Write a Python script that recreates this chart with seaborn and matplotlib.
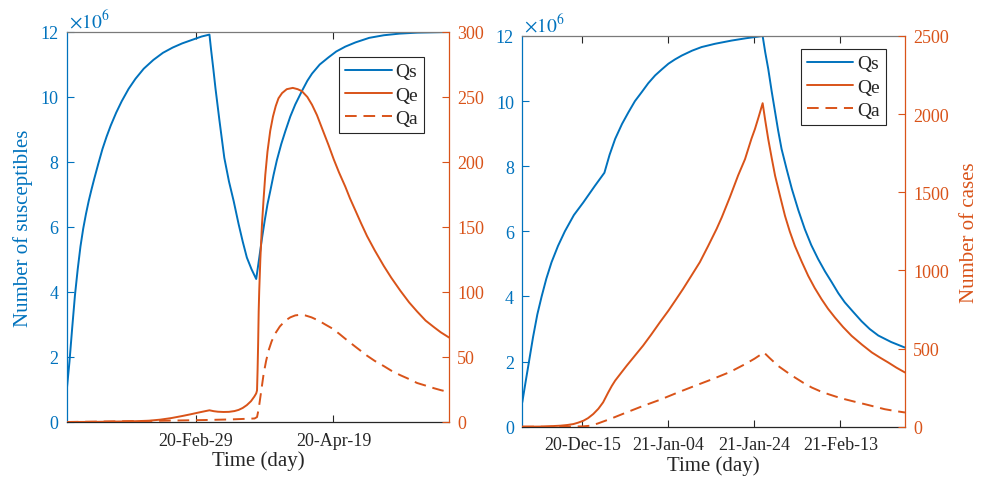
import numpy as np
import pandas as pd
import matplotlib
matplotlib.use("Agg")
import matplotlib.pyplot as plt
import matplotlib.dates as mdates
import seaborn as sns

# ---------------- data ----------------
# Left panel: days since 2020-01-13
left_start = "2020-01-13"
left_end = "2020-05-31"
qs_left_days = [0, 1, 2, 3, 4, 5, 6, 7, 8, 9, 10, 11.5, 13, 14.5, 16, 18, 20, 22.5, 25,
                28, 31.5, 35, 38.5, 42, 46, 49, 51.9,
                52.5, 53.3, 54.1, 55.5, 57.3, 59, 60.7, 62.5, 64, 65.5, 67.2, 68.9,
                70, 71, 72, 73, 74, 75.2, 76.4, 78, 79.5, 81.3, 83.1, 85.5, 87.5, 89.2,
                92, 95.2, 98, 101.3, 105, 110, 115.3, 121, 127.4, 133, 139]
qs_left_vals = [0.97, 1.85, 2.9, 3.9, 4.7, 5.4, 5.95, 6.4, 6.8, 7.15, 7.48, 7.95, 8.4, 8.78,
                9.12, 9.52, 9.87, 10.25, 10.56, 10.87, 11.14, 11.36, 11.52, 11.65, 11.77, 11.86, 11.92,
                11.45, 10.87, 10.26, 9.3, 8.13, 7.4, 6.8, 6.09, 5.55, 5.06, 4.7, 4.40,
                5.05, 5.65, 6.2, 6.7, 7.1, 7.6, 8.05, 8.55, 8.95, 9.4, 9.77, 10.18, 10.5, 10.72,
                11.0, 11.22, 11.4, 11.55, 11.68, 11.82, 11.9, 11.95, 11.98, 11.99, 12.0]

qe_left_days = [0, 10, 20, 25, 30, 34, 38, 42, 45, 48, 50.5, 51.9, 53.5, 55, 57, 59, 61,
                62.5, 64, 65.5, 67, 68.2, 68.9, 69.2, 69.4, 69.6, 69.8, 70.0, 70.4, 71.0,
                71.6, 72.2, 73, 74, 75, 76, 77, 78.3, 80, 82.2, 84, 85.5, 87.5, 89.2, 91,
                93, 95.2, 97.1, 99, 101.3, 103, 104.9, 107, 109.2, 112, 115.3, 118, 121.3,
                124.5, 127.4, 130.5, 133.5, 136, 139]
qe_left_vals = [0, 0.1, 0.4, 0.6, 1.0, 1.8, 3.0, 4.6, 5.9, 7.3, 8.4, 9.0, 8.3, 7.9, 7.7,
                7.8, 8.4, 9.3, 10.8, 13, 16, 19.5, 22, 24.3, 40, 60, 85, 101, 125, 152,
                172, 190, 208, 224, 235, 243, 249, 253, 256, 257, 256, 254.5, 250, 244, 236,
                225, 213, 202, 192, 181, 172, 163, 153, 143, 132, 120, 111, 101,
                92, 85, 78, 73, 69, 65]

qa_left_days = [0, 30, 50, 60, 68.3, 69.2, 69.8, 70.4, 71.0, 71.6, 72.5, 73.4, 74.5, 75.8,
                77.5, 79.5, 81.3, 83.1, 85, 86.7, 89, 91.6, 94, 96.5, 99, 101.3, 104.9,
                109.2, 112, 115.3, 118, 121.3, 124.5, 127.4, 130.5, 133.5, 136, 139]
qa_left_vals = [0, 0.8, 1.5, 2.0, 2.7, 3.8, 10, 19, 28, 37, 47, 55, 62, 68,
                73.5, 78, 80.5, 82, 82.5, 82, 80.5, 78, 75, 72, 68, 64, 58,
                51, 47, 43, 39.5, 36, 33, 30, 28, 26, 24.5, 23]

# Right panel: days since 2020-12-01
right_start = "2020-12-01"
right_end = "2021-02-28"
qs_right_days = [0, 0.8, 1.56, 2.5, 3.5, 4.5, 5.6, 6.8, 8.3, 9.9, 12, 14.2, 16.9, 19.1,
                 20.3, 21.6, 23.2, 24.7, 26.2, 27.8, 29.3, 30.9, 32.5, 34.0, 35.5, 37.1,
                 39.5, 41.7, 44.8, 48.7, 52.0, 55.9,
                 56.5, 57.2, 58.0, 58.8, 59.5, 60.3, 61.5, 62.7, 64.2, 65.7, 67.2, 68.8,
                 70.4, 72.0, 73.5, 75.0, 77.0, 78.9, 80.8, 82.8, 85.8, 89]
qs_right_vals = [0.75, 1.4, 2.0, 2.75, 3.45, 4.0, 4.55, 5.05, 5.55, 6.0, 6.5, 6.89, 7.4, 7.8,
                 8.35, 8.84, 9.3, 9.66, 10.0, 10.28, 10.55, 10.79, 10.98, 11.15, 11.28, 11.4,
                 11.55, 11.66, 11.76, 11.86, 11.93, 12.0,
                 11.5, 10.99, 10.3, 9.66, 9.1, 8.53, 7.9, 7.30, 6.65, 6.07, 5.58, 5.15,
                 4.77, 4.43, 4.1, 3.82, 3.52, 3.24, 3.0, 2.8, 2.6, 2.43]

qe_right_days = [0, 5, 8.8, 10.5, 11.9, 13, 14.2, 15.3, 16.5, 17.7, 18.8, 19.4, 20.0, 20.8,
                 21.6, 23, 24.3, 26.2, 28.1, 30, 32.0, 34.0, 35.7, 37.4, 39.3, 41.3, 43.2,
                 45.2, 46.4, 48.3, 50.2, 51.8, 53.3, 54.1, 55.0, 55.9, 56.5, 57.2, 58.0,
                 58.8, 60, 61.1, 62.2, 63.4, 65, 66.5, 68, 69.6, 71.1, 72.7, 74.6, 76.6,
                 79, 81.3, 83.2, 85.1, 87, 89]
qe_right_vals = [0, 1, 6.4, 11, 17, 26, 38, 55, 81, 115, 156, 188, 220, 260,
                 295, 345, 391, 455, 519, 590, 668, 743, 812, 882, 965, 1053, 1155,
                 1266, 1340, 1470, 1608, 1712, 1843, 1904, 1985, 2070, 1960, 1840, 1720,
                 1605, 1470, 1349, 1250, 1157, 1055, 965, 888, 816, 755, 699, 638, 581,
                 525, 475, 442, 411, 378, 347]

qa_right_days = [0, 10, 14, 15.7, 17.5, 18.5, 20.4, 22.3, 24.3, 28, 32, 36, 39.8, 44, 48.3,
                 51.8, 54, 56.2, 57.5, 59.5, 61.5, 63.4, 65.3, 67.3, 69.2, 71.2, 73, 75.0,
                 77.3, 79.7, 82, 84.3, 86.6, 89]
qa_right_vals = [0, 0.5, 2, 6, 20, 30, 49, 70, 92, 132, 172, 217, 258, 302, 350,
                 400, 435, 475, 440, 389, 350, 315, 282, 251, 228, 208, 192, 176,
                 160, 144, 128, 112, 101, 91]

left_tick_dates = ["2020-02-29", "2020-04-19"]
left_tick_labels = ["20-Feb-29", "20-Apr-19"]
right_tick_dates = ["2020-12-15", "2021-01-04", "2021-01-24", "2021-02-13"]
right_tick_labels = ["20-Dec-15", "21-Jan-04", "21-Jan-24", "21-Feb-13"]

left_yticks = [0, 2, 4, 6, 8, 10, 12]
left_r_yticks = [0, 50, 100, 150, 200, 250, 300]
right_r_yticks = [0, 500, 1000, 1500, 2000, 2500]

# ---------------- style ----------------
sns.set_style("white")
plt.rcParams["font.family"] = ["Liberation Serif", "DejaVu Serif"]
plt.rcParams["mathtext.fontset"] = "stix"

BLUE = "#0072BD"
ORANGE = "#D95319"
DARK = "#262626"
FS = 13
LFS = 15

fig = plt.figure(figsize=(9.81, 4.81), dpi=100)
ax_l = fig.add_axes([0.068, 0.1206, 0.3897, 0.8108])
ax_r = fig.add_axes([0.5324, 0.1108, 0.3901, 0.8123])


def dnum(s):
    return mdates.date2num(pd.Timestamp(s).to_pydatetime())


def panel(ax, start, end, qs_d, qs_v, qe_d, qe_v, qa_d, qa_v,
          tick_dates, tick_labels, r_ticks, r_max, leg_anchor, ylabel_left, ylabel_right):
    s0 = dnum(start)
    ax2 = ax.twinx()
    sns.lineplot(x=s0 + np.array(qs_d), y=np.array(qs_v), ax=ax, color=BLUE,
                 linewidth=1.4, label="Qs", estimator=None)
    sns.lineplot(x=s0 + np.array(qe_d), y=np.array(qe_v), ax=ax2, color=ORANGE,
                 linewidth=1.4, label="Qe", estimator=None)
    sns.lineplot(x=s0 + np.array(qa_d), y=np.array(qa_v), ax=ax2, color=ORANGE,
                 linewidth=1.4, label="Qa", estimator=None)
    ax2.lines[-1].set_dashes((6, 3.5))
    for a in (ax, ax2):
        if a.get_legend() is not None:
            a.get_legend().remove()

    ax.set_xlim(s0, dnum(end))
    ax.set_ylim(0, 12)
    ax2.set_ylim(0, r_max)
    ax.set_yticks(left_yticks)
    ax.set_yticklabels([str(t) for t in left_yticks])
    ax2.set_yticks(r_ticks)
    ax2.set_yticklabels([str(t) for t in r_ticks])
    ax.set_xticks([dnum(t) for t in tick_dates])
    ax.set_xticklabels(tick_labels)

    ax.tick_params(axis="x", direction="in", top=True, bottom=True, length=5,
                   colors=DARK, labelsize=FS, pad=7, width=0.8)
    ax.tick_params(axis="y", direction="in", left=True, length=5, colors=BLUE,
                   labelsize=FS, pad=6, width=0.8)
    ax2.tick_params(axis="y", direction="in", right=True, length=5, colors=ORANGE,
                    labelsize=FS, pad=6, width=0.8)

    ax.spines["left"].set_color(BLUE)
    ax.spines["right"].set_visible(False)
    ax.spines["top"].set_color("#7a7a7a")
    ax.spines["bottom"].set_color(DARK)
    for sp in ("left", "top", "bottom"):
        ax2.spines[sp].set_visible(False)
    ax2.spines["right"].set_color(ORANGE)
    for a in (ax, ax2):
        for sp in a.spines.values():
            sp.set_linewidth(0.9)
    ax.grid(False)
    ax2.grid(False)

    ax.set_xlabel("Time (day)", fontsize=LFS, color=DARK, labelpad=1)
    ax.set_ylabel(ylabel_left, fontsize=LFS, color=BLUE, labelpad=5)
    ax2.set_ylabel(ylabel_right, fontsize=LFS, color=ORANGE, labelpad=8)
    ax.text(0.005, 1.003, r"$\times10^{6}$", transform=ax.transAxes, color=BLUE,
            fontsize=14, ha="left", va="bottom")

    handles = ax.get_lines()[:1] + ax2.get_lines()[:2]
    leg = ax2.legend(handles, ["Qs", "Qe", "Qa"], loc="upper right",
                     bbox_to_anchor=leg_anchor, borderaxespad=0, fontsize=14,
                     frameon=True, fancybox=False, framealpha=1, edgecolor=DARK,
                     handlelength=2.4, handletextpad=0.2, borderpad=0.3,
                     labelspacing=0.3)
    leg.get_frame().set_linewidth(0.8)
    return ax2


panel(ax_l, left_start, left_end, qs_left_days, qs_left_vals, qe_left_days, qe_left_vals,
      qa_left_days, qa_left_vals, left_tick_dates, left_tick_labels, left_r_yticks, 300,
      (0.935, 0.936), "Number of susceptibles", "")
panel(ax_r, right_start, right_end, qs_right_days, qs_right_vals, qe_right_days, qe_right_vals,
      qa_right_days, qa_right_vals, right_tick_dates, right_tick_labels, right_r_yticks, 2500,
      (0.950, 0.967), "", "Number of cases")

fig.savefig("out.png", dpi=100)
